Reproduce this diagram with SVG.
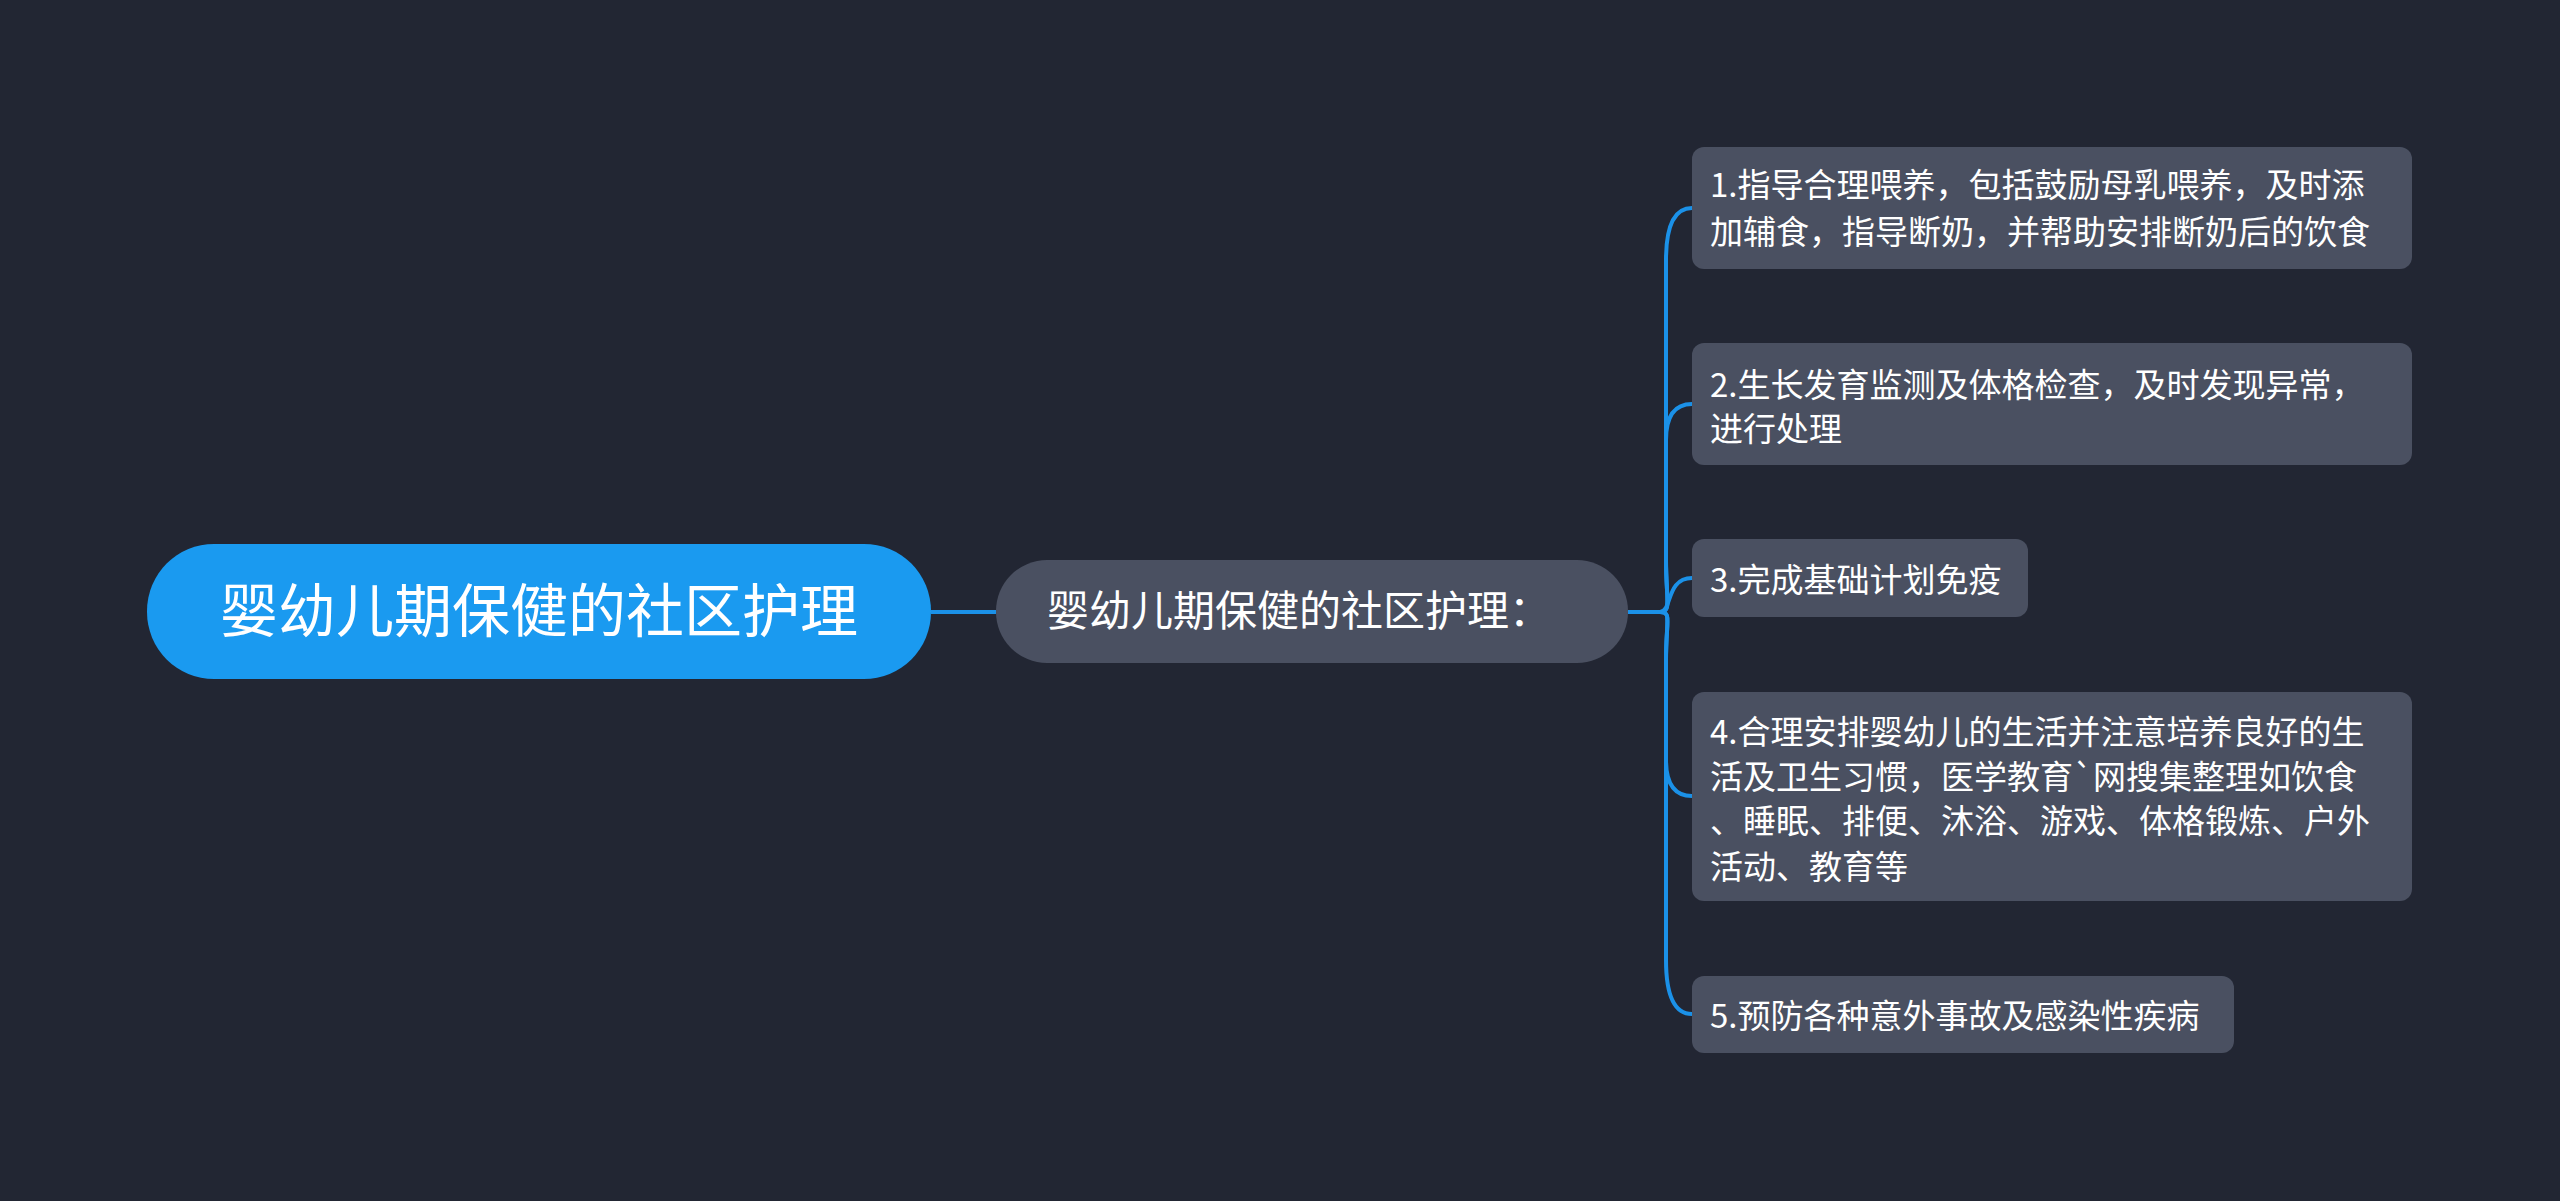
<svg xmlns="http://www.w3.org/2000/svg" width="2560" height="1201" viewBox="0 0 2560 1201">
<style>
text{font-family:"Noto Sans CJK SC","Noto Sans",sans-serif;fill:#ffffff}
.c{font-size:33px}
.box{fill:#4a5061}
.ln{fill:none;stroke:#1b91e8;stroke-width:4}
</style>
<rect width="2560" height="1201" fill="#222633"/>
<g id="connectors">
<path class="ln" d="M931 612 H996"/>
<path class="ln" d="M1628 612 H1660"/>
<path class="ln" d="M1660 612 C1672 612 1666 600 1666 560 V260 C1666 230 1672 208 1692 208"/>
<path class="ln" d="M1660 612 C1672 612 1666 600 1666 560 V440 C1666 420 1672 404 1692 404"/>
<path class="ln" d="M1660 612 C1672 612 1666 578 1692 578"/>
<path class="ln" d="M1660 612 C1672 612 1666 620 1666 660 V760 C1666 780 1672 796 1692 796"/>
<path class="ln" d="M1660 612 C1672 612 1666 620 1666 660 V960 C1666 990 1672 1014 1692 1014"/>
</g>
<g id="root"><rect x="147" y="544" width="784" height="135" rx="67" fill="#1a9af0"/><text x="539" y="632" font-size="58" text-anchor="middle">婴幼儿期保健的社区护理</text></g>
<g id="sub"><rect class="box" x="996" y="560" width="632" height="103" rx="51"/><text x="1047" y="626" font-size="42">婴幼儿期保健的社区护理：</text></g>
<g id="n1"><rect class="box" x="1692" y="147" width="720" height="122" rx="12"/><text class="c" x="1710" y="197">1.指导合理喂养，包括鼓励母乳喂养，及时添</text><text class="c" x="1710" y="244">加辅食，指导断奶，并帮助安排断奶后的饮食</text></g>
<g id="n2"><rect class="box" x="1692" y="343" width="720" height="122" rx="12"/><text class="c" x="1710" y="397">2.生长发育监测及体格检查，及时发现异常，</text><text class="c" x="1710" y="441">进行处理</text></g>
<g id="n3"><rect class="box" x="1692" y="539" width="336" height="78" rx="12"/><text class="c" x="1710" y="592">3.完成基础计划免疫</text></g>
<g id="n4"><rect class="box" x="1692" y="692" width="720" height="209" rx="12"/><text class="c" x="1710" y="744">4.合理安排婴幼儿的生活并注意培养良好的生</text><text class="c" x="1710" y="789">活及卫生习惯，医学教育`网搜集整理如饮食</text><text class="c" x="1710" y="833">、睡眠、排便、沐浴、游戏、体格锻炼、户外</text><text class="c" x="1710" y="879">活动、教育等</text></g>
<g id="n5"><rect class="box" x="1692" y="976" width="542" height="77" rx="12"/><text class="c" x="1710" y="1028">5.预防各种意外事故及感染性疾病</text></g>
</svg>
